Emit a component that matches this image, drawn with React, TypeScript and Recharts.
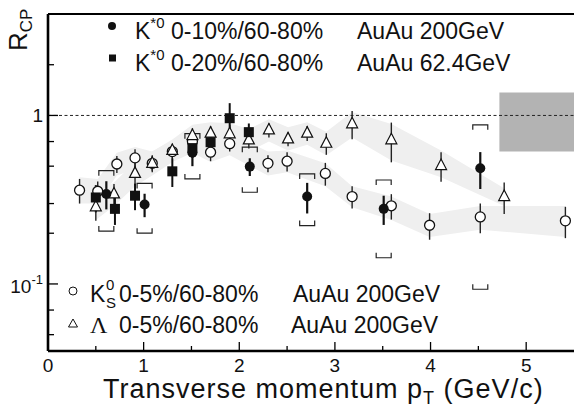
import React from "react";
import {
  ComposedChart,
  XAxis,
  YAxis,
  Scatter,
  Area,
  ErrorBar,
  ReferenceLine,
  ReferenceArea,
} from "recharts";

document.body.style.margin = "0";

const FONT = "'Liberation Sans', Arial, Helvetica, sans-serif";

// K0S 0-5%/60-80% AuAu 200GeV (open circles)
const k0sPt = [0.33, 0.52, 0.72, 0.91, 1.09, 1.3, 1.51, 1.7, 1.9, 2.3, 2.5, 2.9, 3.18, 3.59, 3.99, 4.52, 5.41];
const k0sR = [0.36, 0.355, 0.515, 0.56, 0.52, 0.61, 0.7, 0.605, 0.68, 0.52, 0.535, 0.453, 0.33, 0.291, 0.223, 0.25, 0.237];
const k0sErr = [0.06, 0.05, 0.06, 0.07, 0.06, 0.06, 0.07, 0.07, 0.07, 0.06, 0.07, 0.07, 0.05, 0.05, 0.04, 0.05, 0.05];
const k0sBandLo = [0.3, 0.3, 0.44, 0.48, 0.45, 0.53, 0.6, 0.53, 0.58, 0.44, 0.46, 0.38, 0.285, 0.24, 0.19, 0.21, 0.19];
const k0sBandHi = [0.43, 0.42, 0.6, 0.65, 0.61, 0.71, 0.81, 0.7, 0.79, 0.61, 0.62, 0.52, 0.38, 0.33, 0.26, 0.29, 0.29];

// Lambda 0-5%/60-80% AuAu 200GeV (open triangles)
const lamPt = [0.5, 0.69, 0.91, 1.09, 1.3, 1.51, 1.7, 1.9, 2.1, 2.31, 2.51, 2.71, 2.91, 3.18, 3.59, 4.11, 4.77];
const lamR = [0.287, 0.342, 0.453, 0.52, 0.62, 0.76, 0.785, 0.778, 0.716, 0.82, 0.726, 0.785, 0.684, 0.892, 0.717, 0.504, 0.33];
const lamErr = [0.05, 0.05, 0.07, 0.05, 0.06, 0.08, 0.08, 0.1, 0.08, 0.08, 0.07, 0.08, 0.1, 0.17, 0.19, 0.1, 0.07];
const lamBandLo = [0.24, 0.29, 0.38, 0.44, 0.53, 0.65, 0.67, 0.66, 0.61, 0.7, 0.62, 0.67, 0.58, 0.74, 0.54, 0.43, 0.29];
const lamBandHi = [0.34, 0.4, 0.53, 0.61, 0.72, 0.88, 0.91, 0.9, 0.83, 0.95, 0.85, 0.91, 0.8, 1.05, 0.89, 0.62, 0.37];

// K*0 0-10%/60-80% AuAu 200GeV (filled circles) with systematic brackets
const kst200Pt = [0.61, 1.01, 1.51, 2.11, 2.71, 3.51, 4.52];
const kst200R = [0.342, 0.296, 0.6, 0.497, 0.33, 0.279, 0.486];
const kst200Err = [0.065, 0.047, 0.1, 0.06, 0.068, 0.055, 0.12];
const kst200SysLo = [0.206, 0.2, 0.42, 0.35, 0.222, 0.143, 0.093];
const kst200SysHi = [0.47, 0.395, 0.78, 0.648, 0.45, 0.414, 0.88];

// K*0 0-20%/60-80% AuAu 62.4GeV (filled squares)
const kst62Pt = [0.5, 0.7, 0.91, 1.3, 1.51, 1.7, 1.9, 2.1];
const kst62R = [0.326, 0.279, 0.334, 0.466, 0.64, 0.694, 0.963, 0.796];
const kst62Err = [0.06, 0.055, 0.06, 0.09, 0.08, 0.08, 0.22, 0.1];

const xTicks = [0, 0.5, 1, 1.5, 2, 2.5, 3, 3.5, 4, 4.5, 5, 5.5];
const yTicks = [0.04, 0.05, 0.06, 0.07, 0.08, 0.09, 0.1, 0.2, 0.3, 0.4, 0.5, 0.6, 0.7, 0.8, 0.9, 1, 2, 3, 4];

// normalisation uncertainty box
const normBox = { x1: 4.72, x2: 5.5, y1: 0.61, y2: 1.37 };

const k0sData = k0sPt.map((x, i) => ({ x, y: k0sR[i], err: k0sErr[i] }));
const k0sBand = k0sPt.map((x, i) => ({ x, band: [k0sBandLo[i], k0sBandHi[i]] }));
const lamData = lamPt.map((x, i) => ({ x, y: lamR[i], err: lamErr[i] }));
const lamBand = lamPt.map((x, i) => ({ x, band: [lamBandLo[i], lamBandHi[i]] }));
const kst200Data = kst200Pt.map((x, i) => ({ x, y: kst200R[i], err: kst200Err[i] }));
const kst200Hi = kst200Pt.map((x, i) => ({ x, y: kst200SysHi[i] }));
const kst200Lo = kst200Pt.map((x, i) => ({ x, y: kst200SysLo[i] }));
const kst62Data = kst62Pt.map((x, i) => ({ x, y: kst62R[i], err: kst62Err[i] }));

const OpenCircle = (p: any) => (
  <circle cx={p.cx} cy={p.cy} r={5} fill="#fff" stroke="#111" strokeWidth={1.3} />
);
const OpenTriangle = (p: any) => (
  <path
    d={`M${p.cx},${p.cy - 6.5}L${p.cx - 5.5},${p.cy + 4}L${p.cx + 5.5},${p.cy + 4}Z`}
    fill="#fff"
    stroke="#111"
    strokeWidth={1.2}
  />
);
const FilledCircle = (p: any) => <circle cx={p.cx} cy={p.cy} r={5} fill="#111" />;
const FilledSquare = (p: any) => (
  <rect x={p.cx - 5} y={p.cy - 5} width={10} height={10} fill="#111" />
);
const BracketTop = (p: any) => (
  <path
    d={`M${p.cx - 7.5},${p.cy + 5}V${p.cy}H${p.cx + 7.5}V${p.cy + 5}`}
    fill="none"
    stroke="#222"
    strokeWidth={1.2}
  />
);
const BracketBottom = (p: any) => (
  <path
    d={`M${p.cx - 7.5},${p.cy - 5}V${p.cy}H${p.cx + 7.5}V${p.cy - 5}`}
    fill="none"
    stroke="#222"
    strokeWidth={1.2}
  />
);

const XTick = (props: any) => {
  const { x, y, payload } = props;
  const v = payload.value;
  const major = Number.isInteger(v);
  return (
    <g>
      {v > 0 && v < 5.5 && (
        <line x1={x} x2={x} y1={y} y2={y - (major ? 9 : 5)} stroke="#000" strokeWidth={1.3} />
      )}
      {major && (
        <text x={x} y={y + 21} textAnchor="middle" fontSize={19} fontFamily={FONT} fill="#111">
          {v}
        </text>
      )}
    </g>
  );
};

const YTick = (props: any) => {
  const { x, y, payload } = props;
  const v = payload.value;
  const major = v === 1 || v === 0.1;
  return (
    <g>
      <line x1={x} x2={x + (major ? 10 : 6)} y1={y} y2={y} stroke="#000" strokeWidth={1.3} />
      {v === 1 && (
        <text x={x - 5} y={y + 7} textAnchor="end" fontSize={19} fontFamily={FONT} fill="#111">
          1
        </text>
      )}
      {v === 0.1 && (
        <text x={x - 5} y={y + 9} textAnchor="end" fontSize={19} fontFamily={FONT} fill="#111">
          10
          <tspan fontSize={13} dy={-9}>
            -1
          </tspan>
        </text>
      )}
    </g>
  );
};

export default function App() {
  return (
    <ComposedChart width={574} height={413} margin={{ top: 14, right: 0, bottom: 0, left: 0 }}>
      <XAxis
        type="number"
        dataKey="x"
        domain={[0, 5.5]}
        ticks={xTicks}
        allowDataOverflow
        height={62}
        tickSize={0}
        tickMargin={0}
        tickLine={false}
        tick={<XTick />}
        axisLine={{ stroke: "#000", strokeWidth: 2.6 }}
      />
      <YAxis
        type="number"
        dataKey="y"
        scale="log"
        domain={[0.04, 4]}
        ticks={yTicks}
        allowDataOverflow
        width={48}
        tickSize={0}
        tickMargin={0}
        tickLine={false}
        tick={<YTick />}
        axisLine={{ stroke: "#000", strokeWidth: 2.6 }}
      />
      <Area
        data={k0sBand}
        dataKey="band"
        type="linear"
        stroke="none"
        fill="#efefef"
        fillOpacity={1}
        dot={false}
        activeDot={false}
        isAnimationActive={false}
      />
      <Area
        data={lamBand}
        dataKey="band"
        type="linear"
        stroke="none"
        fill="#efefef"
        fillOpacity={1}
        dot={false}
        activeDot={false}
        isAnimationActive={false}
      />
      <ReferenceArea {...normBox} fill="#b3b3b3" fillOpacity={1} stroke="none" />
      <ReferenceLine y={1} stroke="#222" strokeDasharray="3 2.5" strokeWidth={1} />
      <ReferenceLine y={4} stroke="#000" strokeWidth={2} />

      <Scatter data={kst200Hi} shape={BracketTop} isAnimationActive={false} />
      <Scatter data={kst200Lo} shape={BracketBottom} isAnimationActive={false} />

      <Scatter data={k0sData} shape={OpenCircle} isAnimationActive={false}>
        <ErrorBar dataKey="err" direction="y" width={0} stroke="#222" strokeWidth={1.4} />
      </Scatter>
      <Scatter data={lamData} shape={OpenTriangle} isAnimationActive={false}>
        <ErrorBar dataKey="err" direction="y" width={0} stroke="#222" strokeWidth={1.4} />
      </Scatter>
      <Scatter data={kst62Data} shape={FilledSquare} isAnimationActive={false}>
        <ErrorBar dataKey="err" direction="y" width={0} stroke="#111" strokeWidth={2} />
      </Scatter>
      <Scatter data={kst200Data} shape={FilledCircle} isAnimationActive={false}>
        <ErrorBar dataKey="err" direction="y" width={0} stroke="#111" strokeWidth={2.2} />
      </Scatter>

      {/* y title */}
      <text
        x={27}
        y={51}
        transform="rotate(-90, 27, 51)"
        fontSize={26}
        fontFamily={FONT}
        fill="#111"
      >
        R
        <tspan fontSize={17} dy={5}>
          CP
        </tspan>
      </text>

      {/* x title */}
      <text x={103} y={398} fontSize={27} letterSpacing={1} fontFamily={FONT} fill="#111">
        Transverse momentum p
        <tspan fontSize={18} dy={6}>
          T
        </tspan>
        <tspan dy={-6}> (GeV/c)</tspan>
      </text>

      {/* top legend */}
      <circle cx={112} cy={26} r={4} fill="#111" />
      <text x={135} y={39} fontSize={23} fontFamily={FONT} fill="#111">
        K
        <tspan fontSize={15} dy={-11}>
          *0
        </tspan>
        <tspan x={171} dy={11}>
          0-10%/60-80%
        </tspan>
      </text>
      <text x={357} y={39} fontSize={23} fontFamily={FONT} fill="#111">
        AuAu 200GeV
      </text>
      <rect x={109} y={54.5} width={7} height={7} fill="#111" />
      <text x={135} y={71} fontSize={23} fontFamily={FONT} fill="#111">
        K
        <tspan fontSize={15} dy={-11}>
          *0
        </tspan>
        <tspan x={171} dy={11}>
          0-20%/60-80%
        </tspan>
      </text>
      <text x={357} y={71} fontSize={23} fontFamily={FONT} fill="#111">
        AuAu 62.4GeV
      </text>

      {/* bottom legend */}
      <circle cx={73} cy={291} r={4} fill="#fff" stroke="#111" strokeWidth={1} />
      <text x={90} y={302} fontSize={23} fontFamily={FONT} fill="#111">
        K
        <tspan x={106} y={290} fontSize={15}>
          0
        </tspan>
        <tspan x={106} y={308} fontSize={15}>
          S
        </tspan>
        <tspan x={119} y={302}>
          0-5%/60-80%
        </tspan>
      </text>
      <text x={293} y={302} fontSize={23} fontFamily={FONT} fill="#111">
        AuAu 200GeV
      </text>
      <path d="M73,319L68.5,327L77.5,327Z" fill="#fff" stroke="#111" strokeWidth={1} />
      <text x={90} y={333} fontSize={24} fontFamily="'Liberation Serif', 'Times New Roman', serif" fill="#111">
        Λ
      </text>
      <text x={119} y={333} fontSize={23} fontFamily={FONT} fill="#111">
        0-5%/60-80%
      </text>
      <text x={291} y={333} fontSize={23} fontFamily={FONT} fill="#111">
        AuAu 200GeV
      </text>
    </ComposedChart>
  );
}
